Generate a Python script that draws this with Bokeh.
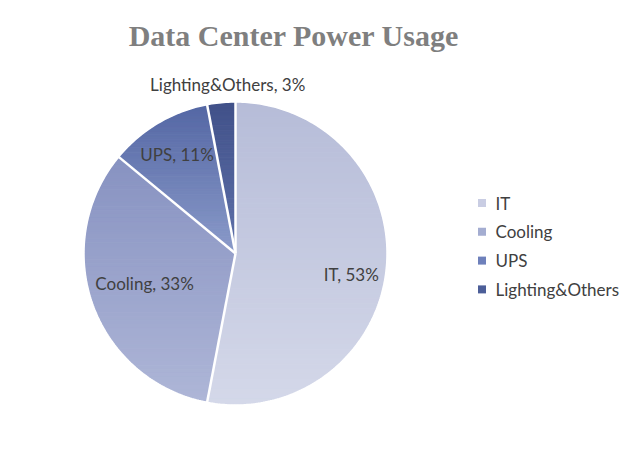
import numpy as np
from bokeh.plotting import figure
from bokeh.embed import file_html
from bokeh.resources import INLINE
from bokeh.core.properties import value

# ---- data ----
categories = ["IT", "Cooling", "UPS", "Lighting&Others"]
shares = [53, 33, 11, 3]

# ---- styles ----
top_colors = ["#b6bcd8", "#8792c1", "#5467a4", "#415189"]
bottom_colors = ["#d4d8e9", "#aeb6d7", "#8a9ac9", "#5f71aa"]
legend_colors = ["#c9cde3", "#a4add1", "#6e80bb", "#4c5e98"]
label_radius = [0.77, 0.64, 0.76, 1.11]
label_dy = [10, -3, 0, -2]
label_dx = [0, 0, 0, 8]

W, H = 622, 435
cx, cy, R = 235.0, 253.0, 151.0
FONT = "Lato"

p = figure(width=W, height=H, x_range=(0, W), y_range=(H, 0),
           output_backend="svg", toolbar_location=None,
           x_axis_location=None, y_axis_location=None,
           min_border=0, outline_line_color=None)
p.grid.visible = False
p.background_fill_color = "white"
p.border_fill_color = "white"


def hex2rgb(h):
    h = h.lstrip("#")
    return np.array([int(h[i:i + 2], 16) for i in (0, 2, 4)], dtype=float)


def rgb2hex(c):
    c = np.clip(np.round(c), 0, 255).astype(int)
    return "#%02x%02x%02x" % tuple(c)


def clip_half(pts, inside, inter):
    out = []
    n = len(pts)
    for i in range(n):
        cur, prev = pts[i], pts[i - 1]
        if inside(cur):
            if not inside(prev):
                out.append(inter(prev, cur))
            out.append(cur)
        elif inside(prev):
            out.append(inter(prev, cur))
    return out


def inter_y(c):
    def f(pp, qq):
        t = (c - pp[1]) / (qq[1] - pp[1])
        return (pp[0] + t * (qq[0] - pp[0]), c)
    return f


total = float(sum(shares))
fracs = np.array(shares) / total
bounds = np.concatenate([[0], np.cumsum(fracs)]) * 2 * np.pi

xs, ys, fills = [], [], []
NB = 60
for i in range(len(categories)):
    a0, a1 = bounds[i], bounds[i + 1]
    th = np.linspace(a0, a1, max(8, int((a1 - a0) / 0.01)))
    poly = [(cx, cy)] + [(cx + R * np.sin(t), cy - R * np.cos(t)) for t in th]
    yv = [q[1] for q in poly]
    ymin, ymax = min(yv), max(yv)
    ct, cb = hex2rgb(top_colors[i]), hex2rgb(bottom_colors[i])
    edges = np.linspace(ymin, ymax, NB + 1)
    for k in range(NB):
        y0, y1 = edges[k], edges[k + 1]
        s = clip_half(poly, lambda q: q[1] >= y0, inter_y(y0))
        if len(s) < 3:
            continue
        s = clip_half(s, lambda q: q[1] <= y1, inter_y(y1))
        if len(s) < 3:
            continue
        tm = (k + 0.5) / NB
        xs.append([q[0] for q in s])
        ys.append([q[1] for q in s])
        fills.append(rgb2hex(ct + (cb - ct) * tm))

p.patches(xs, ys, fill_color=fills, line_color=fills, line_width=1)

# white outline and separators
tc = np.linspace(0, 2 * np.pi, 400)
p.line(cx + (R + 0.5) * np.sin(tc), cy - (R + 0.5) * np.cos(tc), line_color="white", line_width=1.5)
p.segment(x0=[cx] * len(categories), y0=[cy] * len(categories),
          x1=list(cx + (R + 1) * np.sin(bounds[:-1])), y1=list(cy - (R + 1) * np.cos(bounds[:-1])),
          line_color="white", line_width=2.5)

# data labels
mids = (bounds[:-1] + bounds[1:]) / 2
lx = [cx + label_radius[i] * R * np.sin(mids[i]) + label_dx[i] for i in range(len(categories))]
ly = [cy - label_radius[i] * R * np.cos(mids[i]) + label_dy[i] for i in range(len(categories))]
ltext = ["%s, %d%%" % (c, v) for c, v in zip(categories, shares)]
p.text(x=lx, y=ly, text=ltext, text_font=value(FONT), text_font_size="17px",
       text_color="#404040", text_align="center", text_baseline="middle")

# title
p.text(x=[293.5], y=[35], text=["Data Center Power Usage"], text_font=value("Liberation Serif"),
       text_font_size="30px", text_font_style="bold", text_color="#7f7f7f",
       text_align="center", text_baseline="middle")

# legend
leg_x = 481.5
leg_y = [202.5 + 28.8 * i for i in range(len(categories))]
p.scatter(x=[leg_x] * len(categories), y=leg_y, marker="square", size=8,
          fill_color=legend_colors, line_color=None)
p.text(x=[leg_x + 13.5] * len(categories), y=leg_y, text=categories, text_font=value(FONT),
       text_font_size="17px", text_color="#404040", text_align="left", text_baseline="middle")

open("out.html", "w").write(file_html(p, INLINE))
